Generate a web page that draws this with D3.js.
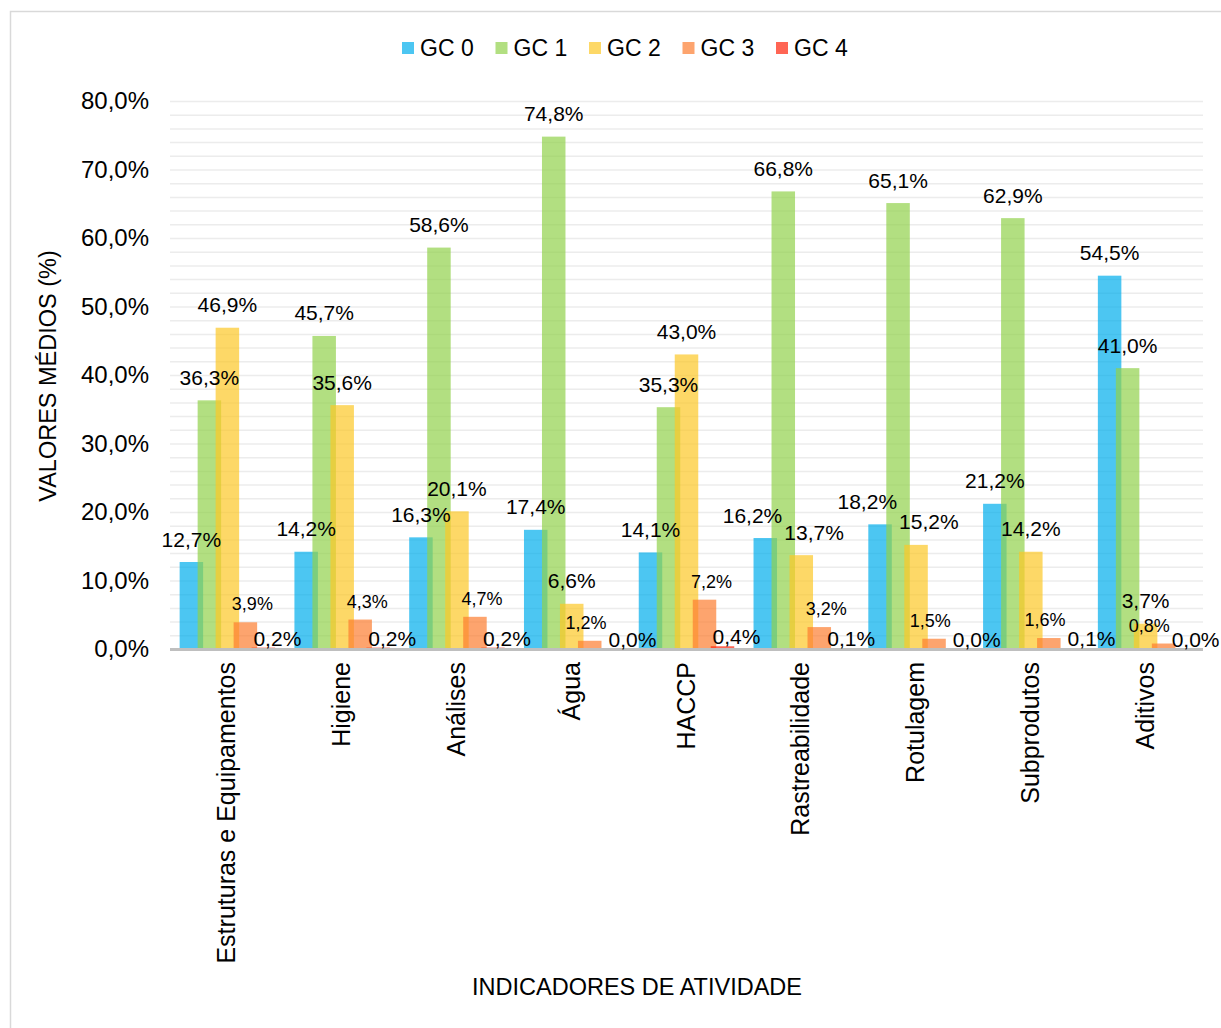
<!DOCTYPE html>
<html>
<head>
<meta charset="utf-8">
<script src="https://cdn.jsdelivr.net/npm/d3@7/dist/d3.min.js"></script>
<style>
  body { margin: 0; background: #fff; }
  text { font-family: "Liberation Sans", Arial, sans-serif; fill: #000; }
</style>
</head>
<body>
<div id="chart"></div>
<script>
// chart data
const categories = ['Estruturas e Equipamentos', 'Higiene', 'Análises', 'Água', 'HACCP',
  'Rastreabilidade', 'Rotulagem', 'Subprodutos', 'Aditivos'];
const seriesNames = ['GC 0', 'GC 1', 'GC 2', 'GC 3', 'GC 4'];
const gc0 = [12.7, 14.2, 16.3, 17.4, 14.1, 16.2, 18.2, 21.2, 54.5];
const gc1 = [36.3, 45.7, 58.6, 74.8, 35.3, 66.8, 65.1, 62.9, 41.0];
const gc2 = [46.9, 35.6, 20.1, 6.6, 43.0, 13.7, 15.2, 14.2, 3.7];
const gc3 = [3.9, 4.3, 4.7, 1.2, 7.2, 3.2, 1.5, 1.6, 0.8];
const gc4 = [0.2, 0.2, 0.2, 0.0, 0.4, 0.1, 0.0, 0.1, 0.0];
const yTicks = [0, 10, 20, 30, 40, 50, 60, 70, 80];

const seriesValues = [gc0, gc1, gc2, gc3, gc4];
const colors = ['#00aeec', '#91d14c', '#fcc727', '#fc7e30', '#ff240c'];

const width = 1221, height = 1028;
const plot = { left: 170, right: 1203, top: 101, bottom: 649 };

const locale = d3.formatLocale({ decimal: ',', thousands: '.', grouping: [3], currency: ['', '€'] });
const pct = v => locale.format('.1f')(v) + '%';

const svg = d3.select('#chart').append('svg')
  .attr('width', width)
  .attr('height', height);

svg.append('rect').attr('width', width).attr('height', height).attr('fill', '#fff');

// outer chart border (runs past the right and bottom edges)
svg.append('path')
  .attr('d', `M10.5,${height} V11.5 H${width}`)
  .attr('fill', 'none')
  .attr('stroke', '#d9d9d9')
  .attr('stroke-width', 1.5);

const x = d3.scaleBand().domain(categories).range([plot.left, plot.right]);
const xs = d3.scalePoint().domain(seriesNames).range([-36, 36]);
const y = d3.scaleLinear().domain([0, 80]).range([plot.bottom, plot.top]);
const barW = 23.5;

// gridlines every 2%
const grid = svg.append('g')
  .attr('transform', `translate(${plot.left},0)`)
  .call(d3.axisLeft(y)
    .tickValues(d3.range(2, 80.01, 2))
    .tickSize(-(plot.right - plot.left))
    .tickFormat(''));
grid.select('.domain').remove();
grid.selectAll('line').attr('stroke', '#ececec').attr('stroke-width', 1.5);

// y tick labels
const yAxis = svg.append('g')
  .attr('transform', `translate(${plot.left},0)`)
  .call(d3.axisLeft(y).tickValues(yTicks).tickSize(0).tickPadding(21).tickFormat(pct));
yAxis.select('.domain').remove();
yAxis.selectAll('text')
  .attr('font-size', 24)
  .attr('font-family', '"Liberation Sans", Arial, sans-serif')
  .attr('fill', '#000');

// bars
const groups = svg.append('g').selectAll('g')
  .data(seriesNames)
  .join('g')
  .attr('fill', (d, i) => colors[i])
  .attr('fill-opacity', 0.7);

groups.selectAll('rect')
  .data((s, si) => seriesValues[si].map((v, ci) => ({ s, v, c: categories[ci] })))
  .join('rect')
  .attr('x', d => x(d.c) + x.bandwidth() / 2 + xs(d.s) - barW / 2)
  .attr('width', barW)
  .attr('y', d => y(d.v))
  .attr('height', d => y(0) - y(d.v));

// baseline
svg.append('line')
  .attr('x1', plot.left).attr('x2', plot.right)
  .attr('y1', y(0) + 0.5).attr('y2', y(0) + 0.5)
  .attr('stroke', '#bfbfbf')
  .attr('stroke-width', 3);

// data labels
const labelStyle = {
  'GC 0': { size: 21, dx: 0, dy: -15.5 },
  'GC 1': { size: 21, dx: 0, dy: -15.5 },
  'GC 2': { size: 21, dx: 0, dy: -15.5 },
  'GC 3': { size: 18, dx: 7, dy: -12 },
  'GC 4': { size: 21, dx: 14, dy: -2 }
};
const labelLayer = svg.append('g');
const labels = [];
seriesNames.forEach((s, si) => {
  const st = labelStyle[s];
  seriesValues[si].forEach((v, ci) => {
    const t = labelLayer.append('text')
      .attr('x', x(categories[ci]) + x.bandwidth() / 2 + xs(s) + st.dx)
      .attr('y', y(v) + st.dy)
      .attr('text-anchor', 'middle')
      .attr('font-size', st.size)
      .text(pct(v));
    labels.push({ t, ci, si, dx: 0 });
  });
});

// push apart labels of the same category that collide
const box = l => {
  const b = l.t.node().getBBox();
  return { x0: b.x + l.dx, x1: b.x + b.width + l.dx, y0: b.y, y1: b.y + b.height };
};
categories.forEach((c, ci) => {
  const ls = labels.filter(l => l.ci === ci);
  for (let pass = 0; pass < 3; pass++) {
    for (let i = 0; i < ls.length; i++) {
      for (let j = i + 1; j < ls.length; j++) {
        const a = box(ls[i]), b = box(ls[j]);
        const ox = Math.min(a.x1, b.x1) - Math.max(a.x0, b.x0);
        const oy = Math.min(a.y1, b.y1) - Math.max(a.y0, b.y0);
        if (ox > 0 && oy > -3) {
          let right = ox / 2 + 1;
          if (b.x1 + right > width - 2) right = Math.max(0, width - 2 - b.x1);
          ls[i].dx -= ox + 2 - right;
          ls[j].dx += right;
        }
      }
    }
  }
  ls.forEach(l => l.t.attr('transform', `translate(${l.dx},0)`));
});

// category labels
svg.append('g').selectAll('text')
  .data(categories)
  .join('text')
  .attr('transform', d => `translate(${x(d) + x.bandwidth() / 2 + 8},662) rotate(-90)`)
  .attr('text-anchor', 'end')
  .attr('font-size', 25)
  .text(d => d);

// axis titles
svg.append('text')
  .attr('transform', 'translate(56,376) rotate(-90)')
  .attr('text-anchor', 'middle')
  .attr('font-size', 23.5)
  .text('VALORES MÉDIOS (%)');

svg.append('text')
  .attr('x', 637).attr('y', 995)
  .attr('text-anchor', 'middle')
  .attr('font-size', 23.5)
  .text('INDICADORES DE ATIVIDADE');

// legend
const legend = svg.append('g').selectAll('g')
  .data(seriesNames)
  .join('g')
  .attr('transform', (d, i) => `translate(${402 + i * 93.5},42)`);
legend.append('rect')
  .attr('width', 12).attr('height', 12)
  .attr('fill', (d, i) => colors[i])
  .attr('fill-opacity', 0.7);
legend.append('text')
  .attr('x', 18).attr('y', 14)
  .attr('font-size', 23)
  .text(d => d);
</script>
</body>
</html>
